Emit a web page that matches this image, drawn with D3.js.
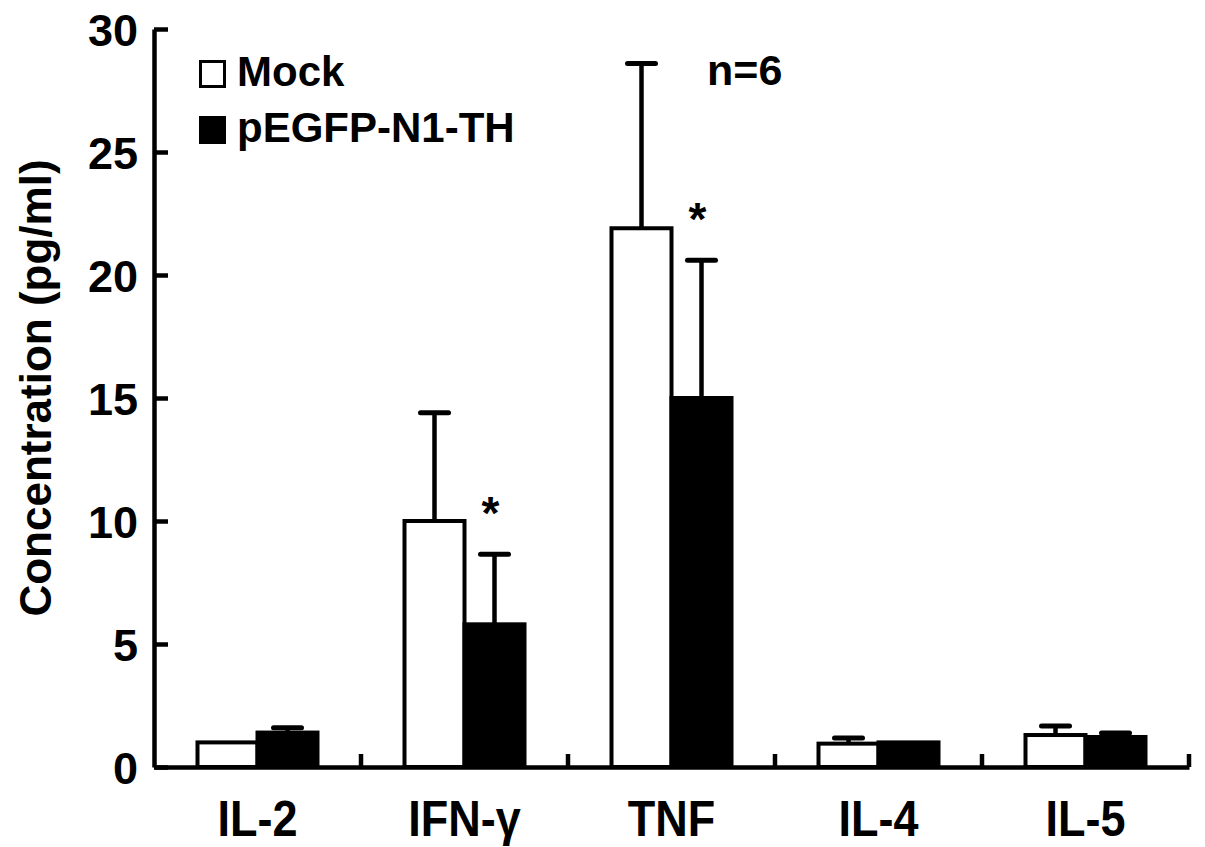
<!DOCTYPE html>
<html>
<head>
<meta charset="utf-8">
<script src="https://cdnjs.cloudflare.com/ajax/libs/d3/7.8.5/d3.min.js"></script>
<style>
  body { margin: 0; background: #fff; }
  svg text { font-family: "Liberation Sans", Arial, Helvetica, sans-serif; font-weight: bold; fill: #000; }
</style>
</head>
<body>
<div class="chart"></div>
<script>
// data
var categories = ["IL-2", "IFN-\u03b3", "TNF", "IL-4", "IL-5"];
var series = ["Mock", "pEGFP-N1-TH"];
var mockValues = [1.0, 10.0, 21.9, 0.95, 1.3];
var mockErrors = [0, 4.4, 6.7, 0.23, 0.37];
var thValues = [1.4, 5.8, 15.0, 1.0, 1.22];
var thErrors = [0.2, 2.85, 5.6, 0, 0.16];
var yTicks = [0, 5, 10, 15, 20, 25, 30];
var starred = ["IFN-\u03b3", "TNF"];

var w = 1205, h = 847;
var svg = d3.select(".chart").append("svg").attr("width", w).attr("height", h);

var x0 = d3.scaleBand().domain(categories).range([154, 1189]);
var groupW = 120;
var x1 = d3.scaleBand().domain(series).range([0, groupW]);
var y = d3.scaleLinear().domain([0, 30]).range([767, 29]);

var rows = categories.map(function(c, i) {
  return [
    { cat: c, s: series[0], v: mockValues[i], e: mockErrors[i] },
    { cat: c, s: series[1], v: thValues[i], e: thErrors[i] }
  ];
});

function barX(d) {
  return x0(d.cat) + (x0.bandwidth() - groupW) / 2 + x1(d.s);
}

// error bars first (the black bars hide the part inside them)
var flat = d3.merge(rows);
var errs = svg.append("g").selectAll("g").data(flat.filter(function(d){ return d.e > 0; }))
  .enter().append("g");
errs.append("line")
  .attr("x1", function(d){ return barX(d) + x1.bandwidth() / 2; })
  .attr("x2", function(d){ return barX(d) + x1.bandwidth() / 2; })
  .attr("y1", function(d){ return y(d.v); })
  .attr("y2", function(d){ return y(d.v + d.e); })
  .attr("stroke", "#000").attr("stroke-width", 4.5);
errs.append("line")
  .attr("x1", function(d){ return barX(d) + x1.bandwidth() / 2 - 14; })
  .attr("x2", function(d){ return barX(d) + x1.bandwidth() / 2 + 14; })
  .attr("y1", function(d){ return y(d.v + d.e); })
  .attr("y2", function(d){ return y(d.v + d.e); })
  .attr("stroke", "#000").attr("stroke-width", 5).attr("stroke-linecap", "round");

svg.append("g").selectAll("rect").data(flat).enter().append("rect")
  .attr("x", barX)
  .attr("y", function(d){ return y(d.v); })
  .attr("width", x1.bandwidth())
  .attr("height", function(d){ return y(0) - y(d.v); })
  .attr("fill", function(d){ return d.s == series[0] ? "#fff" : "#000"; })
  .attr("stroke", "#000")
  .attr("stroke-width", 4);

// stars above the treated error bars
svg.append("g").selectAll("text").data(flat.filter(function(d){ return d.s == series[1] && starred.indexOf(d.cat) >= 0; }))
  .enter().append("text")
  .attr("x", function(d){ return barX(d) + x1.bandwidth() / 2 - 4; })
  .attr("y", function(d){ return y(d.v + d.e) - 25; })
  .attr("text-anchor", "middle")
  .style("font-size", "46px")
  .text("*");

// y axis, ticks pointing inward
var yAxis = svg.append("g").attr("transform", "translate(154,0)")
  .call(d3.axisLeft(y).tickValues(yTicks).tickSize(-14).tickSizeOuter(0).tickPadding(16));
yAxis.select(".domain").attr("stroke-width", 4.5);
yAxis.selectAll(".tick line").attr("stroke-width", 4.5);
yAxis.selectAll("text").style("font-size", "45px").attr("dy", "0.36em");

// x axis with labels under each group, small ticks at group borders
var xAxis = svg.append("g").attr("transform", "translate(0,767)")
  .call(d3.axisBottom(x0).tickSize(0).tickPadding(34).tickSizeOuter(0));
xAxis.select(".domain").attr("stroke-width", 4.5);
xAxis.selectAll("text").style("font-size", "50px").attr("dy", "0.71em")
  .attr("transform", "scale(0.9,1)");
xAxis.selectAll("line.border").data(categories).enter().append("line")
  .attr("class", "border")
  .attr("x1", function(c){ return x0(c) + x0.bandwidth(); })
  .attr("x2", function(c){ return x0(c) + x0.bandwidth(); })
  .attr("y1", 0).attr("y2", -13)
  .attr("stroke", "#000").attr("stroke-width", 4.5);

// axis title
svg.append("text")
  .attr("transform", "translate(51,388) rotate(-90)")
  .attr("text-anchor", "middle")
  .style("font-size", "44px")
  .text("Concentration (pg/ml)");

// legend
var legend = svg.append("g").selectAll("g").data(series).enter().append("g")
  .attr("transform", function(d, i){ return "translate(199," + (60 + i * 56) + ")"; });
legend.append("rect")
  .attr("x", 1.5).attr("y", 1.5).attr("width", 24).attr("height", 25)
  .attr("fill", function(d, i){ return i == 0 ? "#fff" : "#000"; })
  .attr("stroke", "#000").attr("stroke-width", 3);
legend.append("text")
  .attr("x", 38).attr("y", 26)
  .style("font-size", "42px")
  .text(function(d){ return d; });

svg.append("text")
  .attr("x", 707).attr("y", 85)
  .style("font-size", "43px")
  .text("n=6");
</script>
</body>
</html>
